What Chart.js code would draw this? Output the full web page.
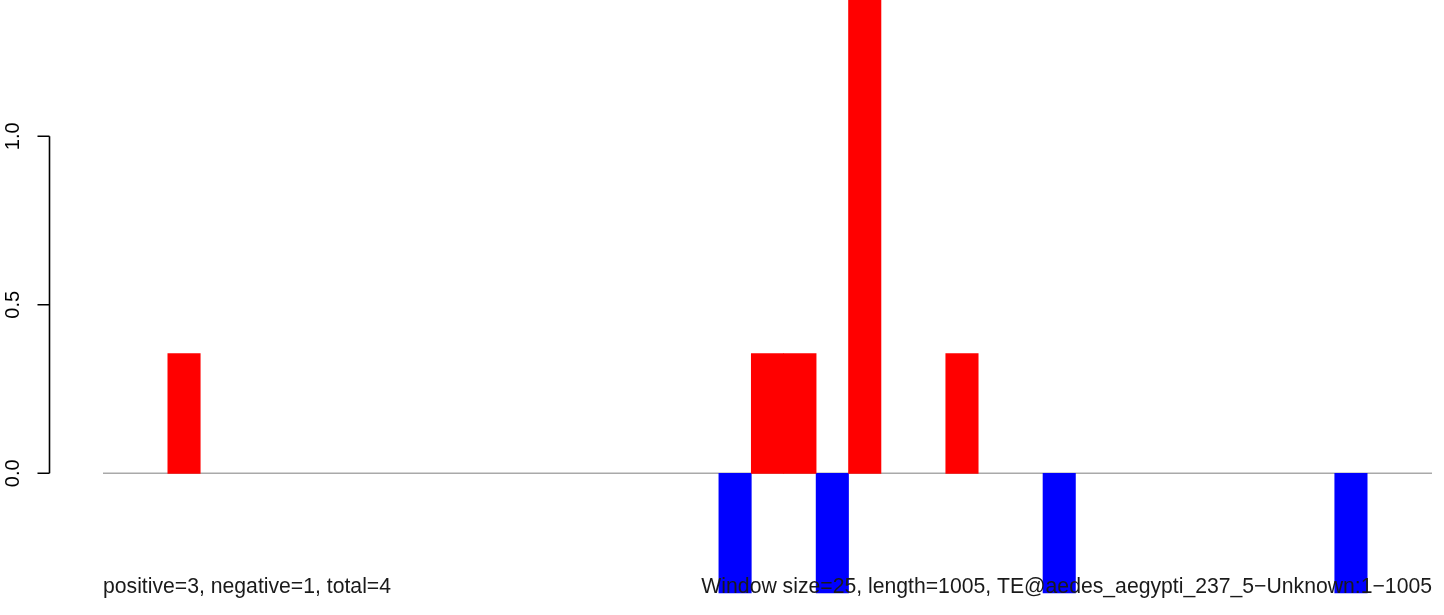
<!DOCTYPE html>
<html>
<head>
<meta charset="utf-8">
<title>TE@aedes_aegypti_237_5</title>
<script src="https://cdn.jsdelivr.net/npm/chart.js@4"></script>
<style>
    html, body { margin: 0; padding: 0; background: #ffffff; }
    #wrap { width: 1444px; height: 615px; }
</style>
</head>
<body>
<div id="wrap"><canvas id="myChart" width="1444" height="615"></canvas></div>
<script>
// Ventanas (categorías) a lo largo del elemento
const ventanas = [1, 2, 3, 4, 5, 6, 7, 8, 9, 10,
                  11, 12, 13, 14, 15, 16, 17, 18, 19, 20,
                  21, 22, 23, 24, 25, 26, 27, 28, 29, 30,
                  31, 32, 33, 34, 35, 36, 37, 38, 39, 40, 41];

// Valores positivos (rojo) y negativos (azul) por ventana
const positivos = [null, null, 0.355, null, null, null, null, null, null, null,
                   null, null, null, null, null, null, null, null, null, null,
                   0.355, 0.355, null, 1.42, null, null, 0.355, null, null, null,
                   null, null, null, null, null, null, null, null, null, null, null];
const negativos = [null, null, null, null, null, null, null, null, null, null,
                   null, null, null, null, null, null, null, null, null, -0.355,
                   null, null, -0.355, null, null, null, null, null, null, -0.355,
                   null, null, null, null, null, null, null, null, -0.355, null, null];

// Marcas del eje Y
const ticksY = [0, 0.5, 1.0];
const ticksYTexto = ['0.0', '0.5', '1.0'];

// Textos inferiores
const textoIzq = 'positive=3, negative=1, total=4';
const textoDer = 'Window size=25, length=1005, TE@aedes_aegypti_237_5\u2212Unknown:1\u22121005';

const fuente = '"Liberation Sans", Arial, Helvetica, sans-serif';

// Línea gris en cero, debajo de las barras
const lineaCero = {
    id: 'lineaCero',
    beforeDatasetsDraw(chart) {
        const ctx = chart.ctx;
        const y = chart.scales.y.getPixelForValue(0);
        ctx.save();
        ctx.strokeStyle = '#a9a9a9';
        ctx.lineWidth = 1.5;
        ctx.beginPath();
        ctx.moveTo(chart.chartArea.left, y);
        ctx.lineTo(chart.chartArea.right, y);
        ctx.stroke();
        ctx.restore();
    }
};

// Eje Y estilo R y textos de abajo
const ejeYTextos = {
    id: 'ejeYTextos',
    afterDraw(chart) {
        const ctx = chart.ctx;
        const yScale = chart.scales.y;
        const xEje = 49.5;
        ctx.save();
        ctx.strokeStyle = '#000000';
        ctx.lineWidth = 1.6;
        ctx.beginPath();
        ctx.moveTo(xEje, yScale.getPixelForValue(ticksY[0]));
        ctx.lineTo(xEje, yScale.getPixelForValue(ticksY[ticksY.length - 1]));
        ticksY.forEach(function(v) {
            const y = yScale.getPixelForValue(v);
            ctx.moveTo(xEje, y);
            ctx.lineTo(xEje - 12, y);
        });
        ctx.stroke();

        // Etiquetas giradas 90 grados
        ctx.fillStyle = '#000000';
        ctx.font = '20px ' + fuente;
        ctx.textAlign = 'center';
        ctx.textBaseline = 'alphabetic';
        ticksY.forEach(function(v, i) {
            const y = yScale.getPixelForValue(v);
            ctx.save();
            ctx.translate(19, y);
            ctx.rotate(-Math.PI / 2);
            ctx.fillText(ticksYTexto[i], 0, 0);
            ctx.restore();
        });

        // Textos inferiores
        ctx.fillStyle = '#1a1a1a';
        ctx.font = '21.2px ' + fuente;
        ctx.textAlign = 'left';
        ctx.fillText(textoIzq, chart.chartArea.left, 593);
        ctx.textAlign = 'right';
        ctx.fillText(textoDer, chart.chartArea.right, 593);
        ctx.restore();
    }
};

const ctx = document.getElementById('myChart').getContext('2d');
const chart = new Chart(ctx, {
    type: 'bar',
    data: {
        labels: ventanas,
        datasets: [{
            label: 'positive',
            data: positivos,
            backgroundColor: '#ff0000',
            borderWidth: 0,
            barPercentage: 1,
            categoryPercentage: 1
        }, {
            label: 'negative',
            data: negativos,
            backgroundColor: '#0000ff',
            borderWidth: 0,
            barPercentage: 1,
            categoryPercentage: 1
        }]
    },
    options: {
        responsive: false,
        animation: false,
        devicePixelRatio: 1,
        layout: { padding: { left: 103, right: 12, top: 0, bottom: 0 } },
        plugins: {
            legend: { display: false },
            tooltip: { enabled: false }
        },
        scales: {
            x: { display: false, stacked: true, offset: true },
            y: { display: false, stacked: true, min: -0.4205, max: 1.4045 }
        }
    },
    plugins: [lineaCero, ejeYTextos]
});
</script>
</body>
</html>
